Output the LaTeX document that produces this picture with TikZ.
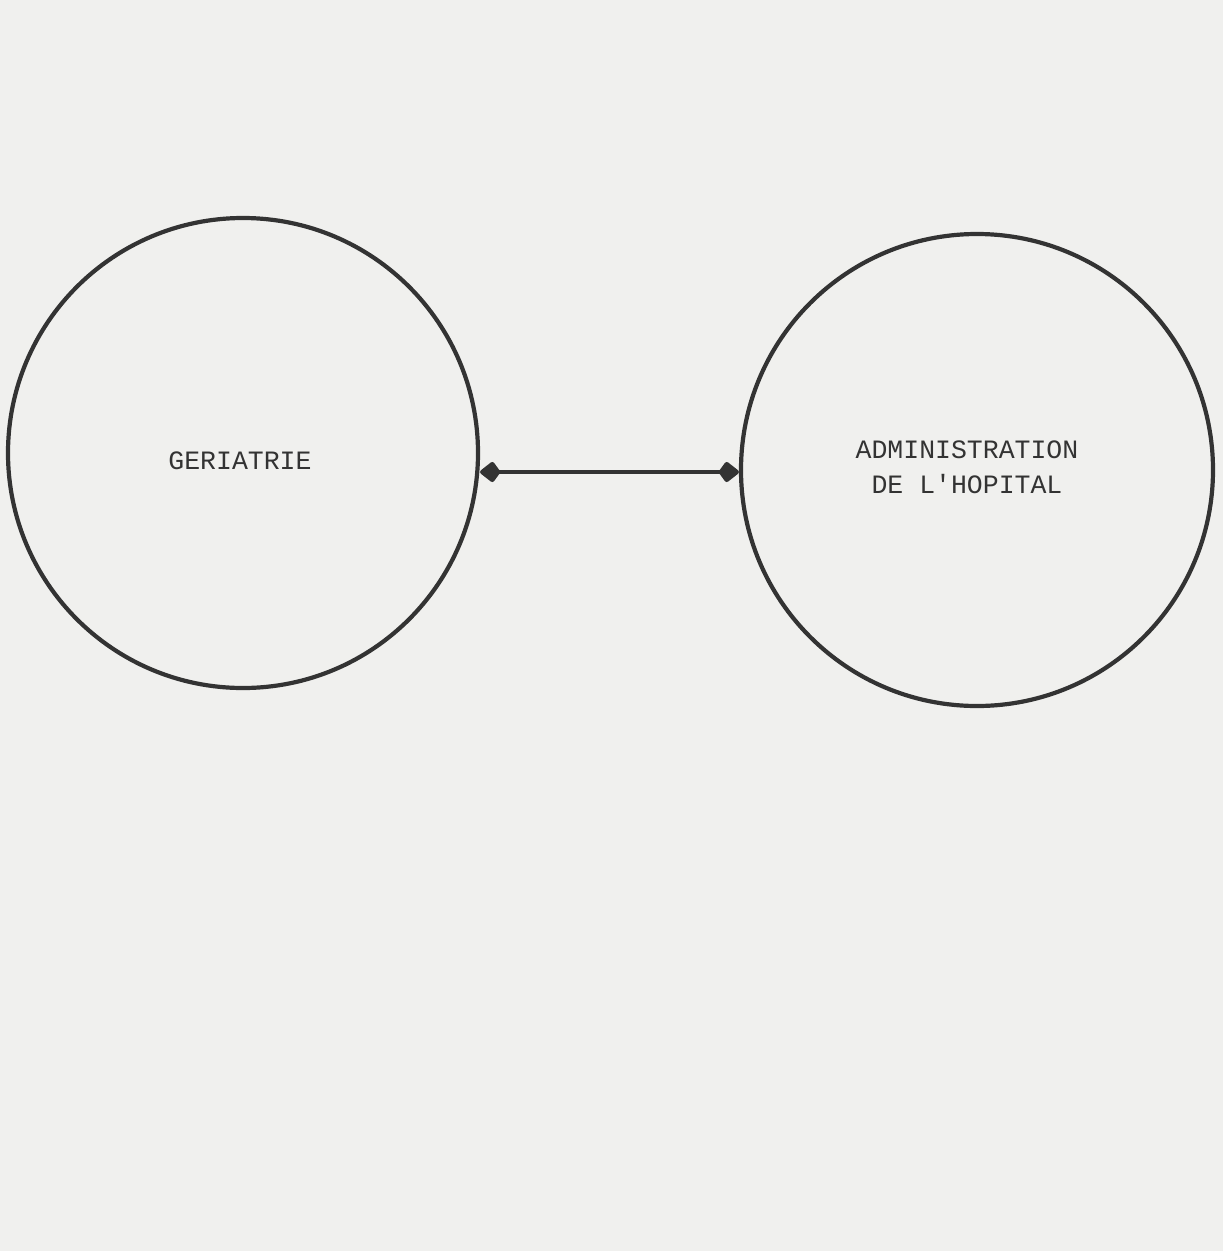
\documentclass[tikz,border=0pt]{standalone}
\usepackage{fontspec}
\setmonofont{Liberation Mono}
\usetikzlibrary{arrows.meta}
\definecolor{paper}{HTML}{F0F0EE}
\definecolor{ink}{HTML}{333333}
\tikzset{
  bigcircle/.style={circle, draw=ink, line width=4.2pt, inner sep=0pt},
  label/.style={text=ink, font=\ttfamily\fontsize{26.5}{35}\selectfont, align=center, inner sep=0pt},
  link/.style={draw=ink, line width=4.5pt, {Kite[length=22pt,width=22pt,inset=8pt,round]}-{Kite[length=22pt,width=22pt,inset=8pt,round]}}
}
\begin{document}
\begin{tikzpicture}[x=1pt,y=-1pt]
\fill[paper] (0,0) rectangle (1223,1251);
\useasboundingbox (0,0) rectangle (1223,1251);
\node[bigcircle, minimum size=470pt] (ger) at (243,453) {};
\node[bigcircle, minimum size=472pt] (adm) at (977,470) {};
\node[label] (gert) at (240,461) {GERIATRIE};
\node[label] (admt) at (967,467) {ADMINISTRATION\\DE L'HOPITAL};
\coordinate (a1) at (ger.east |- 0,472);
\coordinate (a2) at (adm.west |- 0,472);
\draw[link] (a1) -- (a2);
\end{tikzpicture}
\end{document}
